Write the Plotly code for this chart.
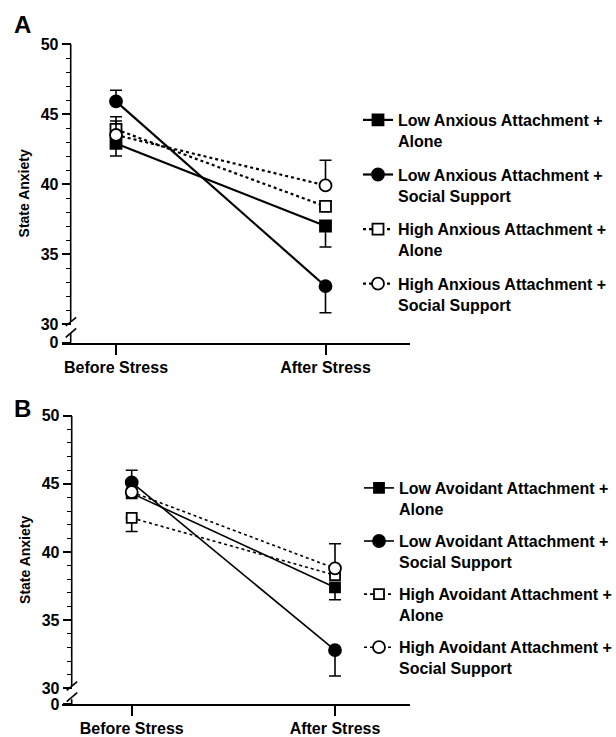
import plotly.graph_objects as go

W, H = 616, 737

# ---------------- data ----------------
stages = ["Before Stress", "After Stress"]
stage_pos = [0, 1]

y_tick_vals_major = [30, 35, 40, 45, 50]
y_tick_text = ["0", "30", "35", "40", "45", "50"]
y_minor_vals = [v for v in range(31, 50) if v % 5 != 0]

# Panel A (anxious attachment)
A_names = ["Low Anxious Attachment +<br>Alone",
           "Low Anxious Attachment +<br>Social Support",
           "High Anxious Attachment +<br>Alone",
           "High Anxious Attachment +<br>Social Support"]
A_low_alone = [42.9, 37.0]
A_low_social = [45.9, 32.7]
A_high_alone = [43.9, 38.4]
A_high_social = [43.5, 39.9]
A_err_plus = [[0, 0], [0.8, 0], [0.9, 0], [1.0, 1.8]]
A_err_minus = [[0.9, 1.5], [0, 1.9], [0, 0], [0, 0]]

# Panel B (avoidant attachment)
B_names = ["Low Avoidant Attachment +<br>Alone",
           "Low Avoidant Attachment +<br>Social Support",
           "High Avoidant Attachment +<br>Alone",
           "High Avoidant Attachment +<br>Social Support"]
B_low_alone = [44.3, 37.4]
B_low_social = [45.1, 32.8]
B_high_alone = [42.5, 38.3]
B_high_social = [44.4, 38.8]
B_err_plus = [[0, 0], [0.9, 0], [0, 0], [0, 1.8]]
B_err_minus = [[0, 0.9], [0, 1.9], [1.0, 0], [0, 0]]

# ---------------- styles ----------------
styles = [
    dict(symbol="square", fill="black", dash="solid"),
    dict(symbol="circle", fill="black", dash="solid"),
    dict(symbol="square", fill="white", dash="dot"),
    dict(symbol="circle", fill="white", dash="dot"),
]
FONT = "Liberation Sans, Arial, Helvetica, sans-serif"


def fx(p):
    return p / W


def fy(p):
    return 1 - p / H


panels = {
    "A": dict(series=[A_low_alone, A_low_social, A_high_alone, A_high_social],
              names=A_names, plus=A_err_plus, minus=A_err_minus,
              axis_x=70.7, xdom=(61.7, 410.0), before_px=116.0, after_px=325.5,
              ytop=44.0, ybot=342.7, y30=324.0,
              xa="x", ya="y", legend="legend", lw=2.2, msize=(11, 12)),
    "B": dict(series=[B_low_alone, B_low_social, B_high_alone, B_high_social],
              names=B_names, plus=B_err_plus, minus=B_err_minus,
              axis_x=71.7, xdom=(61.7, 410.0), before_px=131.7, after_px=335.0,
              ytop=415.7, ybot=704.0, y30=688.3,
              xa="x2", ya="y2", legend="legend2", lw=1.6, msize=(10, 12)),
}

fig = go.Figure()
shapes = []
annotations = []
layout = {}

for key, p in panels.items():
    for i, (vals, name, st) in enumerate(zip(p["series"], p["names"], styles)):
        size = p["msize"][0] if st["symbol"] == "square" else p["msize"][1]
        fig.add_trace(go.Scatter(
            x=stage_pos, y=vals, name=name, mode="lines+markers",
            xaxis=p["xa"], yaxis=p["ya"], legend=p["legend"],
            legendgroup=key + str(i),
            line=dict(color="black", width=p["lw"], dash=st["dash"]),
            marker=dict(symbol=st["symbol"], size=size, color=st["fill"],
                        line=dict(color="black", width=1.8)),
            error_y=dict(type="data", symmetric=False,
                         array=p["plus"][i], arrayminus=p["minus"][i],
                         color="black", thickness=1.6, width=6),
            cliponaxis=False,
        ))

    unit = p["after_px"] - p["before_px"]
    x0 = (p["xdom"][0] - p["before_px"]) / unit
    x1 = (p["xdom"][1] - p["before_px"]) / unit
    ppu = (p["y30"] - p["ytop"]) / 20.0
    y_zero = 30 - (p["ybot"] - p["y30"]) / ppu

    xname = "xaxis" if p["xa"] == "x" else "xaxis2"
    yname = "yaxis" if p["ya"] == "y" else "yaxis2"
    layout[xname] = dict(
        domain=[fx(p["xdom"][0]), fx(p["xdom"][1])], range=[x0, x1],
        anchor=p["ya"], tickmode="array", tickvals=stage_pos, ticktext=stages,
        showline=True, linecolor="black", linewidth=1.6, ticks="outside",
        ticklen=10, tickwidth=1.6, tickcolor="black", showgrid=False,
        zeroline=False, ticklabelstandoff=-1, fixedrange=True,
        tickfont=dict(family=FONT, size=16, color="black", weight="bold"),
    )
    layout[yname] = dict(
        domain=[fy(p["ybot"]), fy(p["ytop"])], range=[y_zero, 50],
        anchor="free", position=fx(p["axis_x"]), fixedrange=True,
        tickmode="array", tickvals=[y_zero] + y_tick_vals_major, ticktext=y_tick_text,
        ticks="outside", ticklen=9, tickwidth=1.6, tickcolor="black",
        minor=dict(tickmode="array", tickvals=y_minor_vals, ticks="outside",
                   ticklen=5, tickwidth=1.4, tickcolor="black"),
        showline=False, showgrid=False, zeroline=False,
        tickfont=dict(family=FONT, size=16, color="black", weight="bold"),
        title=dict(text="State Anxiety", standoff=6,
                   font=dict(family=FONT, size=14, color="black", weight="bold")),
    )
    ax = fx(p["axis_x"])
    # y axis line with a break between 0 and 30
    y_up_end = 30 + 0.14
    y_low_end = 29.36 if key == "A" else 29.2
    shapes.append(dict(type="line", xref="paper", yref=p["ya"], x0=ax, x1=ax,
                       y0=y_up_end, y1=50, line=dict(color="black", width=1.6)))
    shapes.append(dict(type="line", xref="paper", yref=p["ya"], x0=ax, x1=ax,
                       y0=y_zero, y1=y_low_end, line=dict(color="black", width=1.6)))
    # break slashes
    for (ya0, ya1) in ([30 - 2 / ppu, 30 + 6.7 / ppu], [30 - 13.3 / ppu, 30 - 4.3 / ppu]):
        shapes.append(dict(type="line", xref="paper", yref=p["ya"],
                           xsizemode="pixel", xanchor=ax, x0=-5, x1=5.5,
                           y0=ya0, y1=ya1, line=dict(color="black", width=1.6)))

annotations.append(dict(text="A", x=fx(22), y=fy(25), xref="paper", yref="paper",
                        showarrow=False, xanchor="center", yanchor="middle",
                        font=dict(family=FONT, size=24, color="black", weight="bold")))
annotations.append(dict(text="B", x=fx(22), y=fy(408), xref="paper", yref="paper",
                        showarrow=False, xanchor="center", yanchor="middle",
                        font=dict(family=FONT, size=24, color="black", weight="bold")))

legend_common = dict(xanchor="left", yanchor="top", valign="top",
                     bgcolor="rgba(0,0,0,0)", borderwidth=0, itemwidth=30,
                     itemclick=False, itemdoubleclick=False,
                     font=dict(family=FONT, size=16, color="black", weight="bold"))

fig.update_layout(
    width=W, height=H, margin=dict(l=0, r=0, t=0, b=0, autoexpand=False),
    paper_bgcolor="white", plot_bgcolor="white",
    shapes=shapes, annotations=annotations,
    legend=dict(x=fx(358), y=fy(103), tracegroupgap=10, **legend_common),
    legend2=dict(x=fx(359), y=fy(471), tracegroupgap=8.5, **legend_common),
    **layout,
)

fig.write_html("out.html",
               config=dict(displayModeBar=False, staticPlot=False),
               post_script="document.body.style.margin='0px';"
                           "document.body.style.overflow='hidden';")
